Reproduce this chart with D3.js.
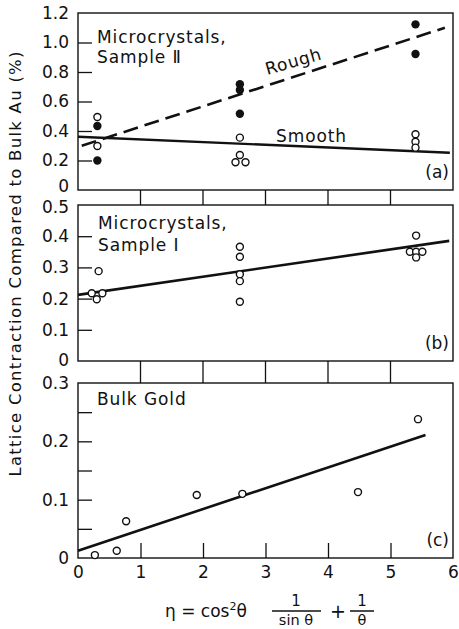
<!DOCTYPE html>
<html>
<head>
<meta charset="utf-8">
<script src="https://cdn.jsdelivr.net/npm/d3@7"></script>
<style>
  body { margin: 0; background: #fff; }
  text { font-family: "DejaVu Sans", sans-serif; fill: #111; }
</style>
</head>
<body>
<div id="vis"></div>
<script>
// tamaños de la figura
const WIDTH = 459;
const HEIGHT = 629;

// datos
const xTickLabels = [0, 1, 2, 3, 4, 5, 6];
const xInnerTicks = [1, 2, 3, 4, 5];

// panel (a): Microcrystals, Sample II
const roughPoints = [
  { x: 0.31, y: 0.434 }, { x: 0.31, y: 0.20 },
  { x: 2.59, y: 0.717 }, { x: 2.59, y: 0.678 }, { x: 2.59, y: 0.517 },
  { x: 5.40, y: 1.123 }, { x: 5.40, y: 0.922 }
];
const smoothPoints = [
  { x: 0.31, y: 0.495 }, { x: 0.31, y: 0.298 },
  { x: 2.59, y: 0.355 }, { x: 2.59, y: 0.237 }, { x: 2.52, y: 0.188 }, { x: 2.68, y: 0.188 },
  { x: 5.40, y: 0.378 }, { x: 5.40, y: 0.327 }, { x: 5.40, y: 0.287 }
];
const roughFit = [{ x: 0.06, y: 0.30 }, { x: 5.87, y: 1.10 }];
const smoothFit = [{ x: 0, y: 0.361 }, { x: 5.95, y: 0.253 }];
const yLabelsA = [0, 0.2, 0.4, 0.6, 0.8, 1.0, 1.2];
const yTicksA = [0.2, 0.4, 0.6, 0.8, 1.0];

// panel (b): Microcrystals, Sample I
const sample1Points = [
  { x: 0.33, y: 0.288 }, { x: 0.22, y: 0.217 }, { x: 0.30, y: 0.198 }, { x: 0.39, y: 0.217 },
  { x: 2.59, y: 0.366 }, { x: 2.59, y: 0.334 }, { x: 2.59, y: 0.278 }, { x: 2.59, y: 0.256 }, { x: 2.59, y: 0.19 },
  { x: 5.41, y: 0.402 }, { x: 5.31, y: 0.35 }, { x: 5.41, y: 0.35 }, { x: 5.51, y: 0.35 }, { x: 5.41, y: 0.332 }
];
const sample1Fit = [{ x: 0, y: 0.212 }, { x: 5.94, y: 0.385 }];
const yLabelsB = [0, 0.1, 0.2, 0.3, 0.4, 0.5];
const yTicksB = [0.1, 0.2, 0.3, 0.4];

// panel (c): Bulk Gold
const bulkPoints = [
  { x: 0.27, y: 0.005 }, { x: 0.62, y: 0.0125 }, { x: 0.77, y: 0.063 },
  { x: 1.90, y: 0.108 }, { x: 2.63, y: 0.110 }, { x: 4.48, y: 0.113 }, { x: 5.44, y: 0.238 }
];
const bulkFit = [{ x: 0, y: 0.0125 }, { x: 5.56, y: 0.211 }];
const yLabelsC = [0, 0.1, 0.2, 0.3];
const yTicksC = [0.05, 0.1, 0.15, 0.2, 0.25];

const SVG = d3.select("#vis")
  .append("svg")
  .attr("width", WIDTH)
  .attr("height", HEIGHT)

const x = d3.scaleLinear().domain([0, 6]).range([78, 453]);
const fmt = d => d === 0 ? "0" : d3.format(".1f")(d);

// shift: pequeños ajustes de etiquetas que chocan entre paneles
const PANELS = [
  { id: "(a)", top: 13, bottom: 190, yMax: 1.2, labels: yLabelsA, ticks: yTicksA, shift: { 0: -4 } },
  { id: "(b)", top: 205, bottom: 361, yMax: 0.5, labels: yLabelsB, ticks: yTicksB, shift: { 0.5: 2, 0: -1 } },
  { id: "(c)", top: 383, bottom: 558, yMax: 0.3, labels: yLabelsC, ticks: yTicksC, shift: {} },
];
PANELS.forEach(p => {
  p.y = d3.scaleLinear().domain([0, p.yMax]).range([p.bottom, p.top]);
});

const line = (p) => d3.line().x(d => x(d.x)).y(d => p.y(d.y));

PANELS.forEach(p => {
  const g = SVG.append("g");

  // marco
  g.append("rect")
    .attr("x", x(0)).attr("y", p.top)
    .attr("width", x(6) - x(0)).attr("height", p.bottom - p.top)
    .attr("fill", "none").attr("stroke", "#111").attr("stroke-width", 1.4);

  // ticks hacia adentro
  const tk = g.append("g")
    .attr("transform", `translate(${x(0)},0)`)
    .call(d3.axisLeft(p.y).tickValues(p.ticks).tickSize(-14).tickFormat(""));
  tk.select(".domain").remove();
  tk.selectAll("line").attr("stroke", "#111").attr("stroke-width", 1.3);

  const lb = g.append("g")
    .attr("transform", `translate(${x(0)},0)`)
    .call(d3.axisLeft(p.y).tickValues(p.labels).tickSize(0).tickPadding(9).tickFormat(fmt));
  lb.select(".domain").remove();
  lb.selectAll("text")
    .style("font-size", "17px")
    .style("font-family", "DejaVu Sans")
    .attr("fill", "#111")
    .attr("y", d => p.shift[d] || 0);

  // etiqueta del panel
  g.append("text")
    .attr("x", 449).attr("y", p.bottom - 12)
    .attr("text-anchor", "end")
    .style("font-size", "17px")
    .text(p.id);
});

// líneas entre paneles
[[PANELS[0], PANELS[1]], [PANELS[1], PANELS[2]]].forEach(([up, down]) => {
  SVG.append("g").selectAll("line")
    .data(xInnerTicks)
    .join("line")
    .attr("x1", d => x(d)).attr("x2", d => x(d))
    .attr("y1", up.bottom).attr("y2", down.top)
    .attr("stroke", "#111").attr("stroke-width", 1.3);
});

// eje x abajo
const pc = PANELS[2];
const xt = SVG.append("g")
  .attr("transform", `translate(0,${pc.bottom})`)
  .call(d3.axisBottom(x).tickValues(xInnerTicks).tickSize(-15).tickFormat(""));
xt.select(".domain").remove();
xt.selectAll("line").attr("stroke", "#111").attr("stroke-width", 1.3);

const xl = SVG.append("g")
  .attr("transform", `translate(0,${pc.bottom})`)
  .call(d3.axisBottom(x).tickValues(xTickLabels).tickSize(0).tickPadding(8).tickFormat(d3.format("d")));
xl.select(".domain").remove();
xl.selectAll("text").style("font-size", "17px").style("font-family", "DejaVu Sans").attr("fill", "#111");

// ---- panel (a)
const pa = PANELS[0];
SVG.append("path").datum(roughFit)
  .attr("d", line(pa)).attr("fill", "none")
  .attr("stroke", "#111").attr("stroke-width", 2.6).attr("stroke-dasharray", "15,7");
SVG.append("path").datum(smoothFit)
  .attr("d", line(pa)).attr("fill", "none")
  .attr("stroke", "#111").attr("stroke-width", 2.4);

SVG.append("g").selectAll("circle")
  .data(smoothPoints).join("circle")
  .attr("cx", d => x(d.x)).attr("cy", d => pa.y(d.y)).attr("r", 3.5)
  .attr("fill", "#fff").attr("stroke", "#111").attr("stroke-width", 1.4);
SVG.append("g").selectAll("circle")
  .data(roughPoints).join("circle")
  .attr("cx", d => x(d.x)).attr("cy", d => pa.y(d.y)).attr("r", 4.2)
  .attr("fill", "#111");

const note = (xx, yy, txt) => SVG.append("text")
  .attr("x", xx).attr("y", yy)
  .style("font-size", "17px")
  .style("letter-spacing", "0.9px")
  .text(txt);

note(97, 43, "Microcrystals,");
note(97, 63, "Sample \u2161");
SVG.append("text")
  .attr("transform", "translate(295,67) rotate(-16)")
  .attr("text-anchor", "middle")
  .style("font-size", "17px")
  .style("letter-spacing", "0.8px")
  .text("Rough");
note(276, 142, "Smooth");

// ---- panel (b)
const pb = PANELS[1];
SVG.append("path").datum(sample1Fit)
  .attr("d", line(pb)).attr("fill", "none")
  .attr("stroke", "#111").attr("stroke-width", 2.6);
SVG.append("g").selectAll("circle")
  .data(sample1Points).join("circle")
  .attr("cx", d => x(d.x)).attr("cy", d => pb.y(d.y)).attr("r", 3.5)
  .attr("fill", "#fff").attr("stroke", "#111").attr("stroke-width", 1.4);

note(98, 229, "Microcrystals,");
note(98, 251, "Sample \u2160");

// ---- panel (c)
SVG.append("path").datum(bulkFit)
  .attr("d", line(pc)).attr("fill", "none")
  .attr("stroke", "#111").attr("stroke-width", 2.6);
SVG.append("g").selectAll("circle")
  .data(bulkPoints).join("circle")
  .attr("cx", d => x(d.x)).attr("cy", d => pc.y(d.y)).attr("r", 3.5)
  .attr("fill", "#fff").attr("stroke", "#111").attr("stroke-width", 1.4);

note(97, 405, "Bulk Gold");

// ---- títulos de ejes
SVG.append("text")
  .attr("transform", "translate(21,264) rotate(-90)")
  .attr("text-anchor", "middle")
  .attr("textLength", 425)
  .attr("lengthAdjust", "spacing")
  .style("font-size", "16.5px")
  .text("Lattice Contraction Compared to Bulk Au (%)");

const xTitle = SVG.append("text").attr("x", 165).attr("y", 617).style("font-size", "17px");
xTitle.append("tspan").text("\u03B7 = cos");
xTitle.append("tspan").attr("dy", -7).style("font-size", "11px").text("2");
xTitle.append("tspan").attr("dy", 7).text("\u03B8");

// fracciones
const fracs = [
  { cx: 296, x1: 272, x2: 321, den: "sin \u03B8" },
  { cx: 362, x1: 350, x2: 374, den: "\u03B8" }
];
fracs.forEach(f => {
  SVG.append("text").attr("x", f.cx).attr("y", 606).attr("text-anchor", "middle").style("font-size", "15px").text("1");
  SVG.append("line").attr("x1", f.x1).attr("x2", f.x2).attr("y1", 611).attr("y2", 611)
    .attr("stroke", "#111").attr("stroke-width", 1.5);
  SVG.append("text").attr("x", f.cx).attr("y", 625).attr("text-anchor", "middle").style("font-size", "14.5px").text(f.den);
});
SVG.append("text").attr("x", 338).attr("y", 618).attr("text-anchor", "middle").style("font-size", "19px").text("+");
</script>
</body>
</html>
